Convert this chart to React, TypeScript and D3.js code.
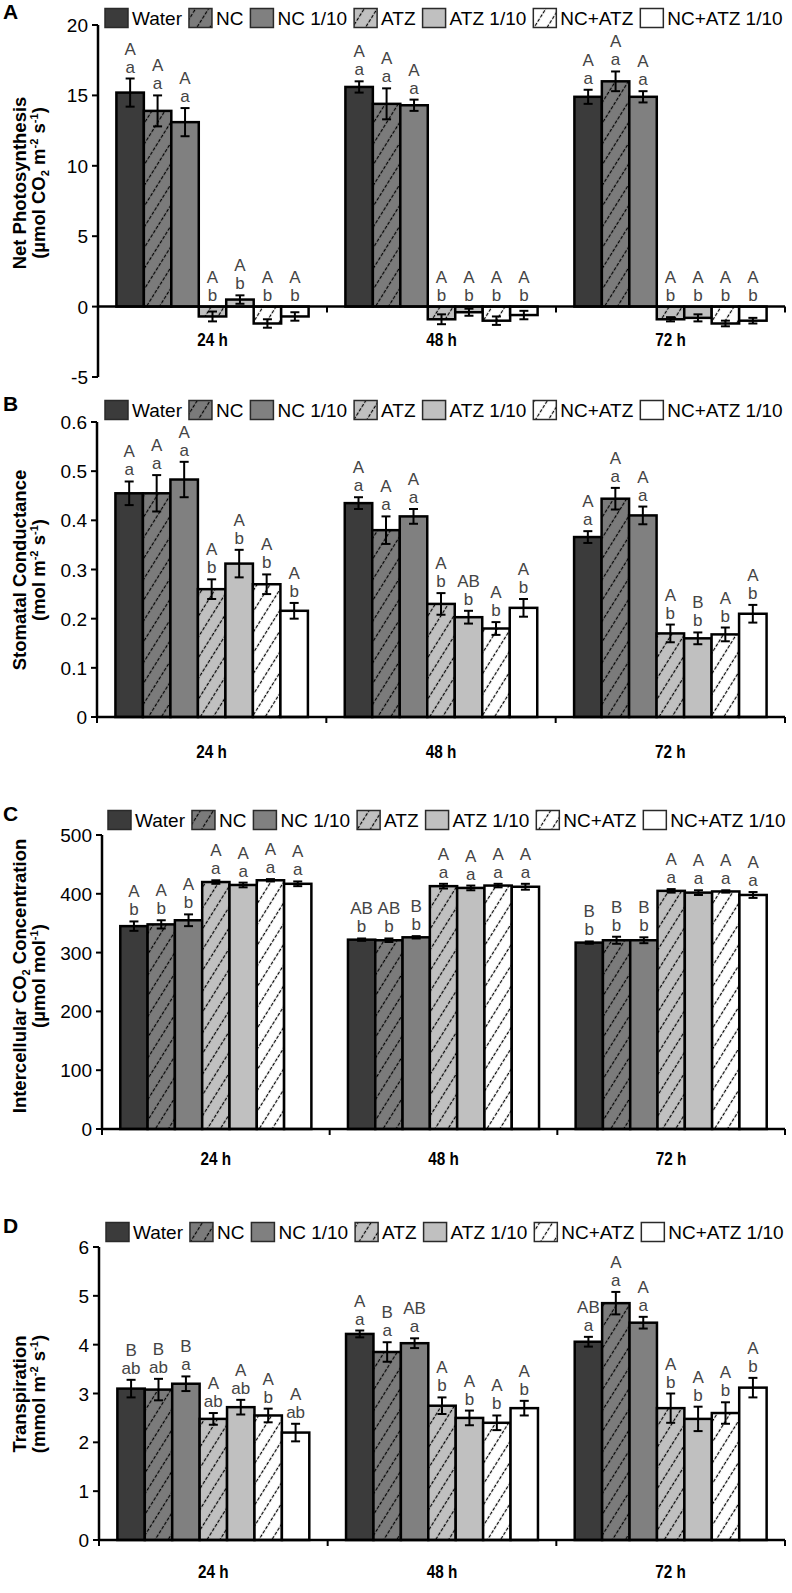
import React from 'react';
import * as d3 from 'd3';

const groups = ['24 h', '48 h', '72 h'];
const treatments = ['Water', 'NC', 'NC 1/10', 'ATZ', 'ATZ 1/10', 'NC+ATZ', 'NC+ATZ 1/10'];
const treatmentFill = ['#3b3b3b', '#7b7b7b', '#808080', '#c0c0c0', '#c0c0c0', '#ffffff', '#ffffff'];
const treatmentHatch = [false, true, false, true, false, true, false];

// Panel A: Net photosynthesis
const photoMean = [
  [15.2, 13.9, 13.1, -0.7, 0.5, -1.2, -0.7],
  [15.6, 14.4, 14.3, -0.9, -0.4, -1.0, -0.6],
  [14.9, 16.0, 14.9, -0.9, -0.8, -1.2, -1.0],
];
const photoErr = [
  [1.0, 1.1, 1.0, 0.35, 0.3, 0.3, 0.3],
  [0.4, 1.1, 0.4, 0.35, 0.25, 0.3, 0.3],
  [0.5, 0.7, 0.4, 0.15, 0.25, 0.2, 0.2],
];
const photoUpper = [
  ['A', 'A', 'A', 'A', 'A', 'A', 'A'],
  ['A', 'A', 'A', 'A', 'A', 'A', 'A'],
  ['A', 'A', 'A', 'A', 'A', 'A', 'A'],
];
const photoLower = [
  ['a', 'a', 'a', 'b', 'b', 'b', 'b'],
  ['a', 'a', 'a', 'b', 'b', 'b', 'b'],
  ['a', 'a', 'a', 'b', 'b', 'b', 'b'],
];
const photoTicks = [-5, 0, 5, 10, 15, 20];

// Panel B: Stomatal conductance
const condMean = [
  [0.455, 0.455, 0.483, 0.26, 0.312, 0.27, 0.216],
  [0.435, 0.38, 0.408, 0.23, 0.203, 0.18, 0.222],
  [0.366, 0.444, 0.41, 0.17, 0.16, 0.168, 0.21],
];
const condErr = [
  [0.024, 0.037, 0.036, 0.02, 0.028, 0.02, 0.016],
  [0.012, 0.028, 0.015, 0.022, 0.013, 0.013, 0.018],
  [0.012, 0.022, 0.018, 0.018, 0.012, 0.014, 0.018],
];
const condUpper = [
  ['A', 'A', 'A', 'A', 'A', 'A', 'A'],
  ['A', 'A', 'A', 'A', 'AB', 'A', 'A'],
  ['A', 'A', 'A', 'A', 'B', 'A', 'A'],
];
const condLower = [
  ['a', 'a', 'a', 'b', 'b', 'b', 'b'],
  ['a', 'a', 'a', 'b', 'b', 'b', 'b'],
  ['a', 'a', 'a', 'b', 'b', 'b', 'b'],
];
const condTicks = [0, 0.1, 0.2, 0.3, 0.4, 0.5, 0.6];

// Panel C: Intercellular CO2 concentration
const co2Mean = [
  [345, 348, 355, 420, 415, 423, 417],
  [322, 321, 326, 413, 410, 414, 412],
  [317, 321, 321, 405, 402, 404, 398],
];
const co2Err = [
  [8, 7, 10, 3, 4, 2, 4],
  [2, 3, 2, 4, 4, 3, 5],
  [2, 6, 5, 3, 4, 2, 5],
];
const co2Upper = [
  ['A', 'A', 'A', 'A', 'A', 'A', 'A'],
  ['AB', 'AB', 'B', 'A', 'A', 'A', 'A'],
  ['B', 'B', 'B', 'A', 'A', 'A', 'A'],
];
const co2Lower = [
  ['b', 'b', 'b', 'a', 'a', 'a', 'a'],
  ['b', 'b', 'b', 'a', 'a', 'a', 'a'],
  ['b', 'b', 'b', 'a', 'a', 'a', 'a'],
];
const co2Ticks = [0, 100, 200, 300, 400, 500];

// Panel D: Transpiration
const transMean = [
  [3.1, 3.08, 3.2, 2.48, 2.72, 2.55, 2.2],
  [4.22, 3.85, 4.03, 2.75, 2.5, 2.4, 2.7],
  [4.06, 4.85, 4.45, 2.7, 2.48, 2.6, 3.12],
];
const transErr = [
  [0.18, 0.22, 0.15, 0.12, 0.15, 0.14, 0.18],
  [0.07, 0.2, 0.1, 0.17, 0.15, 0.15, 0.15],
  [0.1, 0.23, 0.12, 0.3, 0.25, 0.22, 0.2],
];
const transUpper = [
  ['B', 'B', 'B', 'A', 'A', 'A', 'A'],
  ['A', 'B', 'AB', 'A', 'A', 'A', 'A'],
  ['AB', 'A', 'A', 'A', 'A', 'A', 'A'],
];
const transLower = [
  ['ab', 'ab', 'a', 'ab', 'ab', 'b', 'ab'],
  ['a', 'a', 'a', 'b', 'b', 'b', 'b'],
  ['a', 'a', 'a', 'b', 'b', 'b', 'b'],
];
const transTicks = [0, 1, 2, 3, 4, 5, 6];

const FONT = "'Liberation Sans', Arial, Helvetica, sans-serif";
const X_END = 785;

type TitlePart = { t: string; sub?: boolean; sup?: boolean };

const panels = [
  {
    letter: 'A', mean: photoMean, err: photoErr, upper: photoUpper, lower: photoLower, ticks: photoTicks,
    domain: [-5, 20], top: 25, bottom: 377, axisX: 98, legendY: 18, legendX: 105, labelY: 346, titleY: 183,
    title1: [{ t: 'Net Photosynthesis' }] as TitlePart[],
    title2: [{ t: '(µmol CO' }, { t: '2', sub: true }, { t: ' m' }, { t: '-2', sup: true }, { t: ' s' }, { t: '-1', sup: true }, { t: ')' }] as TitlePart[],
  },
  {
    letter: 'B', mean: condMean, err: condErr, upper: condUpper, lower: condLower, ticks: condTicks,
    domain: [0, 0.6], top: 422, bottom: 717, axisX: 97, legendY: 410, legendX: 105, labelY: 758, titleY: 570,
    title1: [{ t: 'Stomatal Conductance' }] as TitlePart[],
    title2: [{ t: '(mol m' }, { t: '-2', sup: true }, { t: ' s' }, { t: '-1', sup: true }, { t: ')' }] as TitlePart[],
  },
  {
    letter: 'C', mean: co2Mean, err: co2Err, upper: co2Upper, lower: co2Lower, ticks: co2Ticks,
    domain: [0, 500], top: 835, bottom: 1129, axisX: 102, legendY: 820, legendX: 108, labelY: 1165, titleY: 976,
    title1: [{ t: 'Intercellular CO' }, { t: '2', sub: true }, { t: ' Concentration' }] as TitlePart[],
    title2: [{ t: '(µmol mol' }, { t: '-1', sup: true }, { t: ')' }] as TitlePart[],
  },
  {
    letter: 'D', mean: transMean, err: transErr, upper: transUpper, lower: transLower, ticks: transTicks,
    domain: [0, 6], top: 1247, bottom: 1540, axisX: 99, legendY: 1232, legendX: 106, labelY: 1578, titleY: 1394,
    title1: [{ t: 'Transpiration' }] as TitlePart[],
    title2: [{ t: '(mmol m' }, { t: '-2', sup: true }, { t: ' s' }, { t: '-1', sup: true }, { t: ')' }] as TitlePart[],
  },
];

const hatchIds = ['', 'hatchNC', '', 'hatchATZ', '', 'hatchNCATZ', ''];

function fillFor(i: number) {
  return treatmentHatch[i] ? `url(#${hatchIds[i]})` : treatmentFill[i];
}

let measureCtx: CanvasRenderingContext2D | null = null;
function measure(text: string, font: string) {
  if (!measureCtx) {
    const c = document.createElement('canvas');
    measureCtx = c.getContext('2d');
  }
  if (!measureCtx) return text.length * 10;
  measureCtx.font = font;
  return measureCtx.measureText(text).width;
}

function TitleText({ parts, x, y, size }: { parts: TitlePart[]; x: number; y: number; size: number }) {
  const nodes: React.ReactNode[] = [];
  let shift = 0;
  parts.forEach((p, i) => {
    let dy = 0;
    let fs = size;
    if (p.sub) { dy = 4 - shift; shift = 4; fs = size * 0.6; }
    else if (p.sup) { dy = -7 - shift; shift = -7; fs = size * 0.6; }
    else { dy = -shift; shift = 0; }
    nodes.push(<tspan key={i} dy={dy} fontSize={fs}>{p.t}</tspan>);
  });
  return (
    <text transform={`translate(${x},${y}) rotate(-90)`} textAnchor="middle" fontFamily={FONT}
      fontWeight="bold" fontSize={size} fill="#000">{nodes}</text>
  );
}

function Legend({ x, y }: { x: number; y: number }) {
  const fs = 19;
  const font = `${fs}px 'Liberation Sans', Arial, sans-serif`;
  const sw = 23, sh = 19;
  let cx = x;
  const items = treatments.map((t, i) => {
    const sx = cx;
    const tw = measure(t, font);
    cx = sx + sw + 4 + tw + 7;
    return (
      <g key={t}>
        <rect x={sx} y={y - sh / 2} width={sw} height={sh} fill={fillFor(i)} stroke="#2a2a2a" strokeWidth={1.5} />
        <text x={sx + sw + 4} y={y + fs * 0.36} fontFamily={FONT} fontSize={fs} fill="#000">{t}</text>
      </g>
    );
  });
  return <g>{items}</g>;
}

function Panel({ p }: { p: typeof panels[number] }) {
  const y = d3.scaleLinear().domain(p.domain).range([p.bottom, p.top]);
  const x0 = d3.scaleBand<string>().domain(groups).range([p.axisX, X_END]).paddingInner(0).paddingOuter(0);
  const x1 = d3.scaleBand<string>().domain(treatments).range([0, x0.bandwidth()]).paddingInner(0).paddingOuter(0.67);
  const zeroY = y(0);
  const bw = x1.bandwidth();
  const boundaries = [p.axisX, ...groups.map((g) => (x0(g) as number) + x0.bandwidth())];

  return (
    <g>
      <text x={3} y={p.legendY + 1} fontFamily={FONT} fontWeight="bold" fontSize={21} fill="#000">{p.letter}</text>
      <Legend x={p.legendX} y={p.legendY} />
      <TitleText parts={p.title1} x={26} y={p.titleY} size={18.5} />
      <TitleText parts={p.title2} x={45} y={p.titleY} size={18.5} />

      {/* bars */}
      {groups.map((g, gi) => (
        <g key={g} transform={`translate(${x0(g)},0)`}>
          {treatments.map((t, ti) => {
            const v = p.mean[gi][ti];
            const e = p.err[gi][ti];
            const bx = x1(t) as number;
            const yTop = Math.min(y(v), zeroY);
            const h = Math.abs(y(v) - zeroY);
            const cx = bx + bw / 2;
            const eTop = y(v + e);
            const eBot = y(v - e);
            const labTop = Math.min(eTop, zeroY);
            const lowerBase = labTop - 6;
            return (
              <g key={t}>
                <rect x={bx} y={yTop} width={bw} height={h} fill={fillFor(ti)} stroke="#000" strokeWidth={2.5} />
                <line x1={cx} x2={cx} y1={eTop} y2={eBot} stroke="#000" strokeWidth={2} />
                <line x1={cx - 4.5} x2={cx + 4.5} y1={eTop} y2={eTop} stroke="#000" strokeWidth={2} />
                <line x1={cx - 4.5} x2={cx + 4.5} y1={eBot} y2={eBot} stroke="#000" strokeWidth={2} />
                <text x={cx} y={lowerBase} textAnchor="middle" fontFamily={FONT} fontSize={17} fill="#444">{p.lower[gi][ti]}</text>
                <text x={cx} y={lowerBase - 18} textAnchor="middle" fontFamily={FONT} fontSize={17} fill="#444">{p.upper[gi][ti]}</text>
              </g>
            );
          })}
        </g>
      ))}

      {/* x axis */}
      <line x1={p.axisX} x2={X_END} y1={zeroY} y2={zeroY} stroke="#000" strokeWidth={2.5} />
      {boundaries.map((bx, i) => (
        <line key={i} x1={bx} x2={bx} y1={zeroY} y2={zeroY + 6} stroke="#000" strokeWidth={2} />
      ))}
      {groups.map((g) => (
        <text key={g} transform={`translate(${(x0(g) as number) + x0.bandwidth() / 2},${p.labelY}) scale(0.85,1)`}
          textAnchor="middle" fontFamily={FONT} fontWeight="bold" fontSize={18} fill="#000">{g}</text>
      ))}

      {/* y axis */}
      <line x1={p.axisX} x2={p.axisX} y1={p.top} y2={p.bottom} stroke="#000" strokeWidth={2.5} />
      {p.ticks.map((tv) => (
        <g key={tv}>
          <line x1={p.axisX - 6} x2={p.axisX} y1={y(tv)} y2={y(tv)} stroke="#000" strokeWidth={2} />
          <text x={p.axisX - 10} y={y(tv) + 7} textAnchor="end" fontFamily={FONT} fontSize={19} fill="#000">{String(tv)}</text>
        </g>
      ))}
    </g>
  );
}

function HatchPattern({ id, color }: { id: string; color: string }) {
  return (
    <pattern id={id} patternUnits="userSpaceOnUse" width={11} height={10} patternTransform="rotate(32)">
      <rect width={11} height={10} fill={color} />
      <line x1={5.5} y1={0} x2={5.5} y2={10} stroke="#000" strokeWidth={1.2} strokeDasharray="3.5 1.5" />
    </pattern>
  );
}

export default function App() {
  return (
    <svg width={792} height={1593} viewBox="0 0 792 1593"
      style={{ position: 'absolute', left: 0, top: 0, background: '#fff' }}>
      <defs>
        <HatchPattern id="hatchNC" color={treatmentFill[1]} />
        <HatchPattern id="hatchATZ" color={treatmentFill[3]} />
        <HatchPattern id="hatchNCATZ" color={treatmentFill[5]} />
      </defs>
      <rect width={792} height={1593} fill="#fff" />
      {panels.map((p) => <Panel key={p.letter} p={p} />)}
    </svg>
  );
}
